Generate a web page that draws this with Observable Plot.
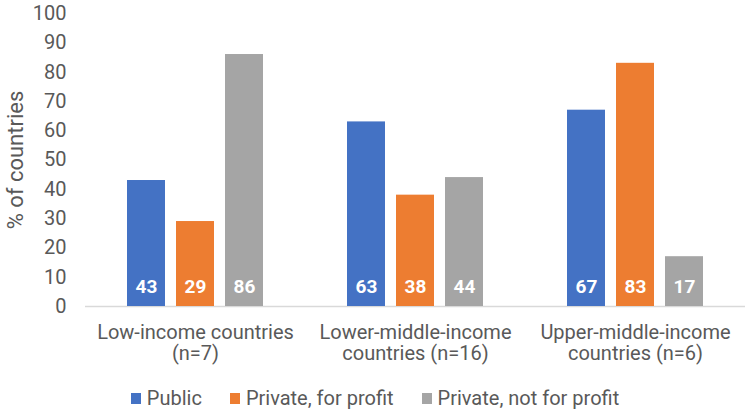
<!DOCTYPE html>
<html>
<head>
<meta charset="utf-8">
<script src="https://cdn.jsdelivr.net/npm/d3@7"></script>
<script src="https://cdn.jsdelivr.net/npm/@observablehq/plot@0.6"></script>
<style>
  body { margin: 0; background: #fff; font-family: Roboto, "Liberation Sans", sans-serif; }
  #chart { width: 750px; height: 414px; overflow: hidden; }
  .legend { display: flex; justify-content: center; align-items: center; gap: 28px; height: 42px; padding-top: 10px; box-sizing: border-box; font-size: 20px; color: #595959; }
  .legend span.item { display: flex; align-items: center; }
  .legend span.sw { width: 10px; height: 11px; display: inline-block; margin-right: 6px; }
</style>
</head>
<body>
<div id="chart"></div>
<script>
const groups = ["Low-income countries\n(n=7)", "Lower-middle-income\ncountries (n=16)", "Upper-middle-income\ncountries (n=6)"];
const series = ["Public", "Private, for profit", "Private, not for profit"];
const publicVals = [43, 63, 67];
const forProfitVals = [29, 38, 83];
const notForProfitVals = [86, 44, 17];
const colors = ["#4472C4", "#ED7D31", "#A5A5A5"];
const yTicks = [0, 10, 20, 30, 40, 50, 60, 70, 80, 90, 100];
const yLabel = "% of countries";

const seriesValues = [publicVals, forProfitVals, notForProfitVals];
const data = [];
groups.forEach((g, i) => series.forEach((s, j) => data.push({group: g, series: s, value: seriesValues[j][i]})));

const plot = Plot.plot({
  width: 750,
  height: 372,
  marginTop: 13,
  marginBottom: 66,
  marginLeft: 85,
  marginRight: 5,
  style: {fontFamily: "Roboto, sans-serif", fontSize: "19px", color: "#595959", background: "#fff"},
  fx: {domain: groups, padding: 0, label: null},
  x: {domain: series, paddingInner: 0.2245, paddingOuter: 0.857, axis: null},
  y: {domain: [0, 100], label: null},
  color: {domain: series, range: colors},
  marks: [
    Plot.axisY({ticks: yTicks, tickSize: 0, tickPadding: 19, fontSize: 20, label: null}),
    Plot.axisFx({anchor: "bottom", tickSize: 0, tickPadding: 17, fontSize: 20, lineHeight: 1.06, lineAnchor: "top", label: null}),
    Plot.text([{fx: groups[0], label: yLabel, mid: 50}], {fx: "fx", y: "mid", text: "label", frameAnchor: "left", textAnchor: "middle", dx: -70, rotate: -90, fontSize: 22, fill: "#595959"}),
    Plot.ruleY([0], {stroke: "#d9d9d9", strokeWidth: 1.5}),
    Plot.barY(data, {fx: "group", x: "series", y: "value", fill: "series"}),
    Plot.text(data, {fx: "group", x: "series", y: 0, dy: -20, text: d => String(d.value), fill: "white", fontWeight: "bold", fontSize: 19})
  ]
});

const chart = document.getElementById("chart");
chart.appendChild(plot);
const legend = document.createElement("div");
legend.className = "legend";
series.forEach((s, j) => {
  const item = document.createElement("span");
  item.className = "item";
  const sw = document.createElement("span");
  sw.className = "sw";
  sw.style.background = colors[j];
  item.appendChild(sw);
  item.appendChild(document.createTextNode(s));
  legend.appendChild(item);
});
chart.appendChild(legend);
</script>
</body>
</html>
